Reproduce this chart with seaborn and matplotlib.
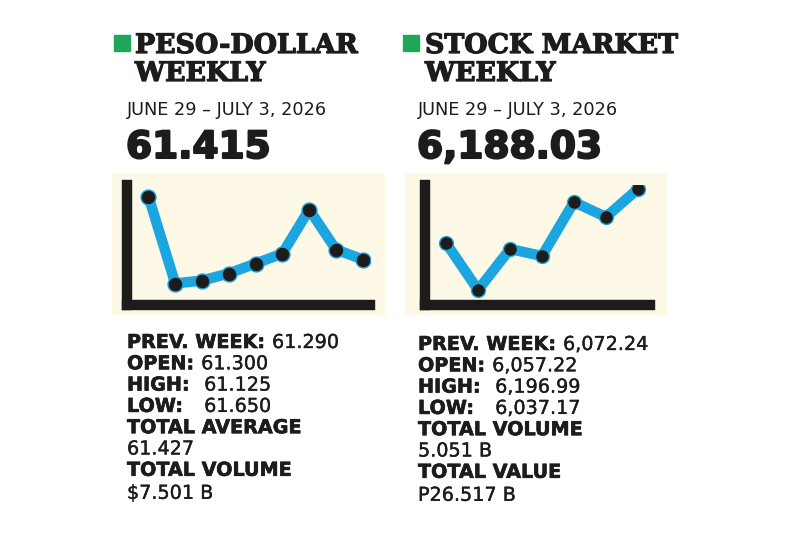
import matplotlib
matplotlib.use('Agg')
import matplotlib.pyplot as plt
import matplotlib.patheffects as pe
import seaborn as sns
import pandas as pd

peso_days = list(range(9))
peso_vals = [108, 21, 24, 31, 41, 51, 95, 55, 45]
stock_days = list(range(7))
stock_vals = [62, 15, 56, 49, 103, 88, 116]

date_label = 'JUNE 29 – JULY 3, 2026'
peso_title = 'PESO-DOLLAR\nWEEKLY'
stock_title = 'STOCK MARKET\nWEEKLY'
peso_close = '61.415'
stock_close = '6,188.03'
peso_stats = [('PREV. WEEK:', '61.290'), ('OPEN:', '61.300'), ('HIGH:', '61.125'),
              ('LOW:', '61.650'), ('TOTAL AVERAGE', ''), ('', '61.427'),
              ('TOTAL VOLUME', ''), ('', '$7.501 B')]
stock_stats = [('PREV. WEEK:', '6,072.24'), ('OPEN:', '6,057.22'), ('HIGH:', '6,196.99'),
               ('LOW:', '6,037.17'), ('TOTAL VOLUME', ''), ('', '5.051 B'),
               ('TOTAL VALUE', ''), ('', 'P26.517 B')]

sns.set_theme(style='white')
plt.rcParams['font.family'] = ['DejaVu Sans']

W, H = 800, 533
fig = plt.figure(figsize=(8, 5.33), dpi=100)
fig.patch.set_facecolor('white')

CREAM = '#fdf9e6'
BLUE = '#1ba6e2'
INK = '#1e1b1b'
GREEN = '#1ea75a'


def fx(x):
    return x / W


def fy(y):
    return 1 - y / H


def box(x0, y0, x1, y1):
    return [fx(x0), fy(y1), fx(x1) - fx(x0), fy(y0) - fy(y1)]


def spark(bg, pos, x, y, xlim, ylim, ms):
    bgax = fig.add_axes(box(*bg))
    bgax.set_facecolor(CREAM)
    bgax.set_xticks([]); bgax.set_yticks([])
    for s in bgax.spines.values():
        s.set_visible(False)
    ax = fig.add_axes(box(*pos))
    ax.patch.set_alpha(0)
    df = pd.DataFrame({'day': x, 'val': y})
    sns.lineplot(data=df, x='day', y='val', ax=ax, color=BLUE, linewidth=7.5,
                 solid_capstyle='round', solid_joinstyle='round')
    sns.scatterplot(data=df, x='day', y='val', ax=ax, color=INK, s=ms,
                    edgecolor=BLUE, linewidth=1, zorder=3)
    ax.set_xlim(*xlim); ax.set_ylim(*ylim)
    ax.set_xticks([]); ax.set_yticks([])
    ax.set_xlabel(''); ax.set_ylabel('')
    for side in ['top', 'right']:
        ax.spines[side].set_visible(False)
    for side in ['left', 'bottom']:
        ax.spines[side].set_linewidth(7.5)
        ax.spines[side].set_color(INK)
        ax.spines[side].set_capstyle('projecting')


spark((112, 173, 385, 315), (127, 185, 370, 304.5), peso_days, peso_vals,
      (-0.80, 8.27), (0, 119.5), 115)
spark((405, 173, 667, 315), (425, 185, 650, 305), stock_days, stock_vals,
      (-0.66, 6.38), (0, 120), 100)

renderer = fig.canvas.get_renderer()
heavy = [pe.withStroke(linewidth=1.5, foreground=INK)]
title_fx = [pe.withStroke(linewidth=0.9, foreground=INK)]
semi = [pe.withStroke(linewidth=0.45, foreground=INK)]
light = [pe.withStroke(linewidth=0.25, foreground=INK)]


def header(xsq, xt, xl, title, number):
    fig.patches.append(plt.Rectangle((fx(xsq), fy(51)), 16 / W, 16 / H,
                                     transform=fig.transFigure, color=GREEN))
    t1, t2 = title.split('\n')
    for txt, yb in [(t1, 53), (t2, 81)]:
        fig.text(fx(xt), fy(yb), txt, family='DejaVu Serif', weight='heavy',
                 fontsize=19.3, color=INK, path_effects=title_fx)
    fig.text(fx(xl), fy(115), date_label, fontsize=12.8, color=INK)
    fig.text(fx(xl - 1), fy(158), number, weight='bold', fontsize=27, color=INK,
             path_effects=heavy)


def stats(xl, base, lines):
    y = base
    val_x = None
    for i, (lab, val) in enumerate(lines):
        x = xl
        if lab:
            t = fig.text(fx(x), fy(y), lab, weight='bold', fontsize=13.8, color=INK,
                         path_effects=semi)
            x = t.get_window_extent(renderer).x1 + 7
            if lab == 'OPEN:':
                val_x = x
            elif lab in ('HIGH:', 'LOW:'):
                x = val_x + 3
        if val:
            fig.text(fx(x), fy(y), val, fontsize=13.8, color=INK, path_effects=light)
        y += 21.3 if i < len(lines) - 2 else 23


header(114, 135, 127, peso_title, peso_close)
header(403, 425, 418, stock_title, stock_close)
stats(127, 348, peso_stats)
stats(418, 350, stock_stats)

fig.savefig('out.png', dpi=100, facecolor='white')
